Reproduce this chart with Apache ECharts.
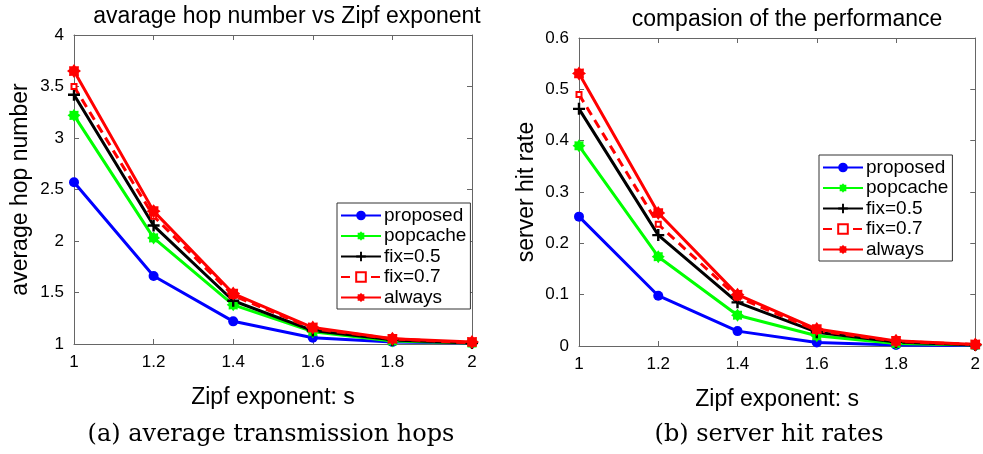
<!DOCTYPE html>
<html>
<head>
<meta charset="utf-8">
<script src="https://cdn.jsdelivr.net/npm/echarts@6/dist/echarts.min.js"></script>
<style>
  html, body { margin: 0; padding: 0; background: #fff; }
  #chart { width: 983px; height: 454px; }
</style>
</head>
<body>
<div id="chart"></div>
<script>
// Zipf exponent values on the x axis
const zipfS = [1, 1.2, 1.4, 1.6, 1.8, 2];
const xTicks = [1, 1.2, 1.4, 1.6, 1.8, 2];

// Average hop number per scheme
const hopsProposed = [2.57, 1.66, 1.22, 1.06, 1.02, 1.01];
const hopsPopcache = [3.22, 2.03, 1.38, 1.12, 1.03, 1.01];
const hopsFix05    = [3.42, 2.15, 1.42, 1.13, 1.04, 1.01];
const hopsFix07    = [3.50, 2.24, 1.47, 1.15, 1.05, 1.01];
const hopsAlways   = [3.65, 2.29, 1.49, 1.16, 1.05, 1.02];
const hopTicks = [1, 1.5, 2, 2.5, 3, 3.5, 4];

// Server hit rate per scheme
const hitProposed = [0.252, 0.098, 0.029, 0.007, 0.002, 0.001];
const hitPopcache = [0.390, 0.174, 0.060, 0.020, 0.005, 0.002];
const hitFix05    = [0.462, 0.216, 0.085, 0.027, 0.008, 0.002];
const hitFix07    = [0.490, 0.237, 0.095, 0.030, 0.009, 0.003];
const hitAlways   = [0.531, 0.259, 0.100, 0.033, 0.010, 0.003];
const hitTicks = [0, 0.1, 0.2, 0.3, 0.4, 0.5, 0.6];

const names = ['proposed', 'popcache', 'fix=0.5', 'fix=0.7', 'always'];

const FONT = 'Liberation Sans';
const AXIS = '#666';
const plusPath = 'path://M4,0 H6 V4 H10 V6 H6 V10 H4 V6 H0 V4 H4 Z';
const blobPath = 'path://M5,0 L6.2,1.6 L8.5,1.5 L8.4,3.8 L10,5 L8.4,6.2 L8.5,8.5 L6.2,8.4 L5,10 L3.8,8.4 L1.5,8.5 L1.6,6.2 L0,5 L1.6,3.8 L1.5,1.5 L3.8,1.6 Z';

const styles = [
  { color: '#0000ff', symbol: 'circle', size: 10, dash: 'solid' },
  { color: '#00ff00', symbol: blobPath, size: 13, dash: 'solid' },
  { color: '#000000', symbol: plusPath, size: 12, dash: 'solid' },
  { color: '#ff0000', symbol: 'emptyRect', size: 5, dash: [9, 6] },
  { color: '#ff0000', symbol: blobPath, size: 14, dash: 'solid' }
];

function pairs(ys) { return zipfS.map((x, i) => [x, ys[i]]); }

function makeSeries(sets, gi) {
  return sets.map((ys, k) => {
    const st = styles[k];
    return {
      name: names[k],
      type: 'line',
      xAxisIndex: gi * 2,
      yAxisIndex: gi * 2,
      data: pairs(ys),
      symbol: st.symbol,
      symbolSize: st.size,
      showAllSymbol: true,
      animation: false,
      lineStyle: { color: st.color, width: 3, type: st.dash },
      itemStyle: { color: st.color, borderColor: st.color, borderWidth: st.symbol === 'emptyRect' ? 3 : 0 },
      emphasis: { disabled: true }
    };
  });
}

function axisPair(gi, pos, minV, maxV, step, name, gap, labels) {
  const isX = pos === 'bottom';
  const base = {
    gridIndex: gi,
    type: 'value',
    min: minV, max: maxV, interval: step,
    axisLine: { show: true, onZero: false, lineStyle: { color: AXIS, width: 1 } },
    axisTick: { show: true, inside: true, length: 5, lineStyle: { color: AXIS } },
    splitLine: { show: false }
  };
  const main = Object.assign({}, base, {
    position: pos,
    name: name,
    nameLocation: 'middle',
    nameGap: gap,
    nameTextStyle: { fontFamily: FONT, fontSize: 23, color: '#000' },
    axisLabel: {
      show: true, fontFamily: FONT, fontSize: 17, color: '#000',
      margin: 10,
      formatter: v => labels.includes(v) ? String(v) : ''
    }
  });
  const mirror = Object.assign({}, base, {
    position: isX ? 'top' : 'right',
    axisLabel: { show: false }
  });
  return [main, mirror];
}

const grids = [
  { left: 74, right: 511, top: 35, bottom: 110 },
  { left: 579, right: 6, top: 38, bottom: 108 }
];

const xAxes = [
  ...axisPair(0, 'bottom', 1, 2, 0.2, 'Zipf exponent: s', 42, xTicks),
  ...axisPair(1, 'bottom', 1, 2, 0.2, 'Zipf exponent: s', 42, xTicks)
];
const yAxes = [
  ...axisPair(0, 'left', 1, 4, 0.5, 'average hop number', 42, hopTicks),
  ...axisPair(1, 'left', 0, 0.6, 0.1, 'server hit rate', 41, hitTicks)
];

function legendAt(left, top) {
  return {
    data: names,
    left: left, top: top,
    orient: 'vertical',
    itemWidth: 40, itemHeight: 12, itemGap: 1.5,
    padding: [3, 4, 2, 3],
    borderColor: '#333', borderWidth: 1,
    backgroundColor: '#fff',
    selectedMode: false,
    textStyle: { fontFamily: FONT, fontSize: 19, color: '#000', lineHeight: 19, padding: [0, 0, 0, -2] }
  };
}

const option = {
  backgroundColor: '#fff',
  animation: false,
  title: [
    { text: 'avarage hop number vs Zipf exponent', left: 287, top: 5, textAlign: 'center', padding: 0,
      textStyle: { fontFamily: FONT, fontSize: 23, fontWeight: 'normal', color: '#000' } },
    { text: 'compasion of the performance', left: 787, top: 8, textAlign: 'center', padding: 0,
      textStyle: { fontFamily: FONT, fontSize: 23, fontWeight: 'normal', color: '#000' } }
  ],
  grid: grids,
  xAxis: xAxes,
  yAxis: yAxes,
  legend: [legendAt(337, 203), legendAt(819, 155)],
  series: [
    ...makeSeries([hopsProposed, hopsPopcache, hopsFix05, hopsFix07, hopsAlways], 0),
    ...makeSeries([hitProposed, hitPopcache, hitFix05, hitFix07, hitAlways], 1)
  ],
  // captions under each panel
  graphic: [
    { type: 'text', x: 271, y: 435,
      style: { text: '(a) average transmission hops', fontFamily: 'DejaVu Serif', fontSize: 24,
               fill: '#000', align: 'center', verticalAlign: 'middle' } },
    { type: 'text', x: 769, y: 435,
      style: { text: '(b) server hit rates', fontFamily: 'DejaVu Serif', fontSize: 24,
               fill: '#000', align: 'center', verticalAlign: 'middle' } }
  ]
};

const chart = echarts.init(document.getElementById('chart'), null, { renderer: 'canvas' });
chart.setOption(option);
</script>
</body>
</html>
